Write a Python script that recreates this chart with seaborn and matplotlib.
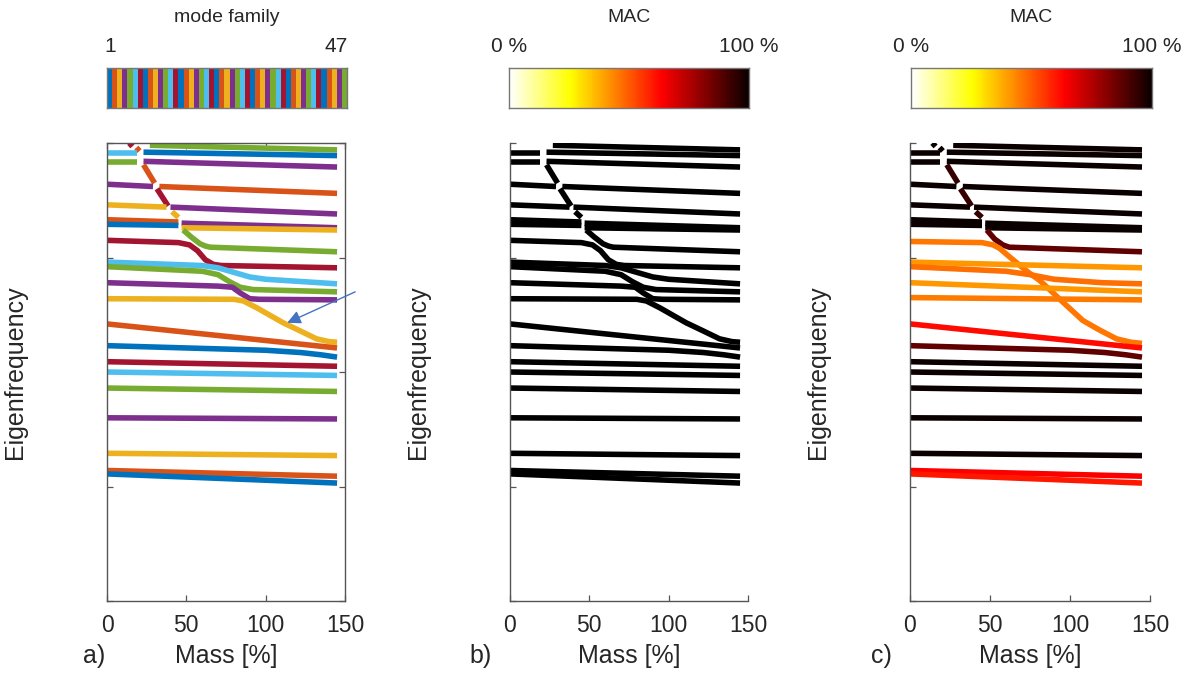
import numpy as np
import matplotlib
matplotlib.use('Agg')
import matplotlib.pyplot as plt
import seaborn as sns
from matplotlib.colors import ListedColormap

plt.rcParams['font.family'] = ['Liberation Sans', 'DejaVu Sans']

# matlab default line colors
azul, laranja, amarelo, roxo, verde, ciano, vinho = ['#0072BD', '#D95319', '#EDB120', '#7E2F8E',
                                                     '#77AC30', '#4DBEEE', '#A2142F']
cores_familia = [azul, laranja, amarelo, roxo, verde, ciano, vinho]
n_familias = 47

# small pieces at the top left
dot_mass = [[14, 16], [18.5, 20.5]]
dot_freq = [[4.00, 3.97], [3.96, 3.93]]
dot_cor = [vinho, laranja]
dot_mac = [100, 100]

# upper modes, sharp veerings (same shape in every panel)
sup_mass = [[27, 145], [23, 145], [0, 19], [0, 19], [23, 145],
            [23, 30], [0, 29], [33, 145], [31.5, 38.5], [0, 37.5], [40, 145],
            [41, 45], [0, 45], [0, 45], [47, 145], [47, 145]]
sup_freq = [[3.98, 3.94], [3.92, 3.89], [3.91, 3.91], [3.83, 3.83], [3.84, 3.79],
            [3.81, 3.65], [3.64, 3.62], [3.62, 3.56], [3.60, 3.45], [3.46, 3.44], [3.44, 3.38],
            [3.40, 3.35], [3.33, 3.31], [3.29, 3.28], [3.30, 3.26], [3.26, 3.24]]
sup_cor = [verde, azul, ciano, verde, roxo, laranja, roxo, laranja, vinho, amarelo, roxo,
           amarelo, laranja, azul, roxo, amarelo]
sup_mac = [100, 100, 100, 100, 100, 93, 100, 100, 93, 100, 100, 93, 100, 100, 100, 100]

# middle modes, wide veerings (branches as in panels a and b)
mid_mass = [[48, 53, 58.6, 62, 65, 145],
            [0, 45, 52, 57, 62, 67, 72, 145],
            [0, 60, 70, 80, 90, 100, 145],
            [0, 60, 70, 77, 84, 92, 145],
            [0, 70, 79, 84, 90, 96, 145],
            [0, 80, 86, 94.5, 111, 121.6, 132, 140, 145]]
mid_freq = [[3.24, 3.18, 3.12, 3.10, 3.09, 3.05],
            [3.15, 3.13, 3.11, 3.06, 2.98, 2.94, 2.93, 2.91],
            [2.96, 2.93, 2.91, 2.87, 2.83, 2.81, 2.77],
            [2.92, 2.88, 2.85, 2.79, 2.74, 2.72, 2.70],
            [2.78, 2.75, 2.74, 2.69, 2.64, 2.635, 2.63],
            [2.64, 2.635, 2.62, 2.56, 2.43, 2.36, 2.29, 2.265, 2.26]]
mid_cor = [verde, vinho, ciano, verde, roxo, amarelo]

# middle modes as tracked by MAC (panel c)
mid_c_mass = [[48, 53, 58, 62, 145],
              [0, 45, 52, 56, 61, 67, 74, 81, 88, 94, 101, 108, 118, 129, 138, 145],
              [0, 145],
              [0, 60, 75, 90, 100, 120, 145],
              [0, 145],
              [0, 145]]
mid_c_freq = [[3.24, 3.16, 3.11, 3.09, 3.05],
              [3.14, 3.13, 3.11, 3.08, 3.02, 2.95, 2.87, 2.80, 2.71, 2.63, 2.54, 2.45, 2.37, 2.29, 2.26, 2.25],
              [2.96, 2.91],
              [2.92, 2.88, 2.85, 2.81, 2.80, 2.78, 2.77],
              [2.78, 2.70],
              [2.65, 2.63]]
mid_c_mac = [87, 46, 41, 47, 41, 45]

# lower modes
inf_mass = [[0, 145], [0, 100, 122, 135, 145], [0, 145], [0, 145], [0, 145], [0, 145], [0, 145],
            [0, 145], [0, 145]]
inf_freq = [[2.42, 2.21], [2.23, 2.19, 2.17, 2.15, 2.13], [2.09, 2.05], [2.00, 1.97], [1.86, 1.83],
            [1.60, 1.59], [1.29, 1.27], [1.14, 1.09], [1.11, 1.03]]
inf_cor = [laranja, azul, vinho, ciano, verde, roxo, amarelo, laranja, azul]
inf_mac = [62, 87, 100, 100, 100, 100, 100, 64, 60]

xticks = [0, 50, 100, 150]
cor_eixo = '#555555'
cor_texto = '#262626'
mapa_mac = plt.get_cmap('hot_r')

W, H = 1182, 673
fig = plt.figure(figsize=(W / 100, H / 100), dpi=100)


def caixa(x0, y0, x1, y1):
    return [x0 / W, 1 - y1 / H, (x1 - x0) / W, (y1 - y0) / H]


def desenha(ax, mass_list, freq_list, cores):
    for m, f, c in zip(mass_list, freq_list, cores):
        sns.lineplot(x=m, y=f, color=c, lw=4.0, ax=ax, sort=False, estimator=None,
                     solid_capstyle='butt', solid_joinstyle='round')


def formata(ax, box):
    ax.set_xlim(0, 150)
    ax.set_ylim(0, 4)
    ax.set_xticks(xticks)
    ax.set_yticks([0, 1, 2, 3, 4])
    ax.set_yticklabels([])
    ax.set_xlabel('')
    ax.set_ylabel('')
    ax.tick_params(direction='in', length=4, width=0.9, color=cor_eixo, labelsize=16.5,
                   labelcolor=cor_texto, pad=9, top=box, right=box)
    for lado, s in ax.spines.items():
        s.set_color(cor_eixo)
        s.set_linewidth(1)
        if not box and lado in ('top', 'right'):
            s.set_visible(False)


def barra(ax, dados, cmap):
    sns.heatmap(dados, cmap=cmap, cbar=False, xticklabels=False, yticklabels=False, ax=ax)
    for s in ax.spines.values():
        s.set_visible(True)
        s.set_color('#777777')
        s.set_linewidth(1)


ax_a = fig.add_axes(caixa(107, 143, 345, 601))
ax_b = fig.add_axes(caixa(510, 143, 748, 601))
ax_c = fig.add_axes(caixa(910, 143, 1150, 601))

# a) mode family colors
desenha(ax_a, dot_mass + sup_mass + mid_mass + inf_mass, dot_freq + sup_freq + mid_freq + inf_freq,
        dot_cor + sup_cor + mid_cor + inf_cor)
ax_a.annotate('', xy=(112, 2.42), xytext=(158, 2.71), annotation_clip=False,
              arrowprops=dict(arrowstyle='-|>', mutation_scale=20, color='#4472C4', lw=1))

# b) MAC with the initial mode
todos_b = sup_mass + mid_mass + inf_mass
desenha(ax_b, todos_b, sup_freq + mid_freq + inf_freq, ['black'] * len(todos_b))

# c) MAC with the previous step
macs_c = dot_mac + sup_mac + mid_c_mac + inf_mac
desenha(ax_c, dot_mass + sup_mass + mid_c_mass + inf_mass, dot_freq + sup_freq + mid_c_freq + inf_freq,
        [mapa_mac(v / 100) for v in macs_c])

formata(ax_a, True)
formata(ax_b, False)
formata(ax_c, False)

# colorbars
cax_a = fig.add_axes(caixa(107, 68, 347, 108))
barra(cax_a, np.arange(n_familias).reshape(1, -1),
      ListedColormap([cores_familia[i % 7] for i in range(n_familias)]))
cax_b = fig.add_axes(caixa(509, 68, 749, 108))
barra(cax_b, np.linspace(0, 100, 256).reshape(1, -1), 'hot_r')
cax_c = fig.add_axes(caixa(911, 68, 1152, 108))
barra(cax_c, np.linspace(0, 100, 256).reshape(1, -1), 'hot_r')

def texto(x, y, s, size, ha='center', rot=0):
    fig.text(x / W, 1 - y / H, s, ha=ha, va='center', size=size, color=cor_texto, rotation=rot)


texto(227, 17, 'mode family', 14)
texto(104, 47, '1', 15, ha='left')
texto(348, 47, '47', 15, ha='right')
for xc, x0, x1 in [(629, 509, 749), (1031, 911, 1152)]:
    texto(xc, 17, 'MAC', 14)
    texto(x0, 47, '0 %', 15)
    texto(x1, 47, '100 %', 15)

for xc, xe, xl, letra in [(226, 15, 94, 'a)'), (629, 418, 481, 'b)'), (1030, 818, 881, 'c)')]:
    texto(xc, 656, 'Mass [%]', 18)
    texto(xe, 372, 'Eigenfrequency', 18, rot=90)
    texto(xl, 656, letra, 18)

fig.savefig('out.png', dpi=100)
